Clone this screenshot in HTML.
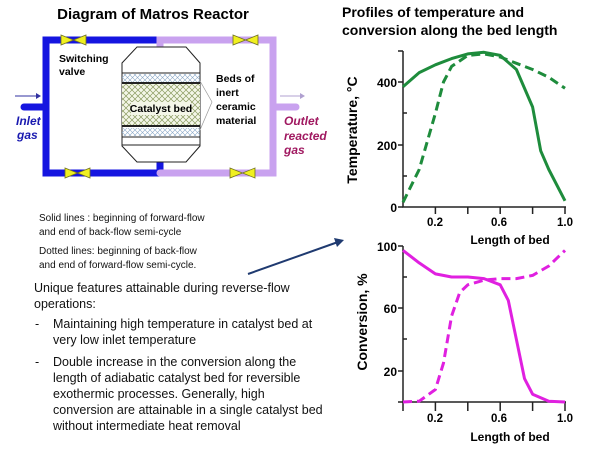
<!DOCTYPE html>
<html><head><style>body{margin:0;background:#fff}svg{display:block}</style></head><body>
<svg width="600" height="450" viewBox="0 0 600 450" xmlns="http://www.w3.org/2000/svg" font-family="Liberation Sans, Arial, sans-serif">
<defs>
<pattern id="hx" width="6" height="6" patternUnits="userSpaceOnUse"><path d="M0 0L6 6M6 0L0 6" stroke="#8a9a60" stroke-width="0.7"/></pattern>
<pattern id="hb" width="5" height="5" patternUnits="userSpaceOnUse"><path d="M0 0L5 5M5 0L0 5" stroke="#8aa8c8" stroke-width="0.6"/></pattern>
</defs>
<text x="153" y="19" font-size="15" font-weight="bold" text-anchor="middle">Diagram of Matros Reactor</text>
<!-- pipes -->
<g fill="none" stroke-linecap="round" stroke-width="7">
<path d="M160 40H46V173H160V162" stroke="#1515e0"/>
<path d="M24 107H46" stroke="#1515e0"/>
<path d="M160 51V40H273V173H160" stroke="#c9a2ef"/>
<path d="M273 107H296" stroke="#c9a2ef"/>
</g>
<path d="M15 96H40" stroke="#3030a0" stroke-width="1"/><path d="M36 93L41 96L36 99Z" fill="#3030a0"/>
<path d="M280 96H303" stroke="#b0a0d0" stroke-width="1"/><path d="M300 93L305 96L300 99Z" fill="#b0a0d0"/>
<!-- valves -->
<g fill="#f0f020" stroke="#707020" stroke-width="0.8">
<path d="M61 35L86 45V35L61 45Z"/>
<path d="M233 35L258 45V35L233 45Z"/>
<path d="M65 168L90 178V168L65 178Z"/>
<path d="M230 168L255 178V168L230 178Z"/>
</g>
<!-- reactor -->
<path d="M137 47H186L200 63V146L186 162H137L122 146V63Z" fill="#fff" stroke="#222" stroke-width="1"/>
<rect x="122" y="74" width="78" height="8" fill="url(#hb)"/>
<rect x="122" y="84" width="78" height="41" fill="#f4f6e8"/>
<rect x="122" y="84" width="78" height="41" fill="url(#hx)"/>
<rect x="122" y="128" width="78" height="8" fill="url(#hb)"/>
<g stroke="#222"><path d="M122 73H200M122 145H200" stroke-width="1"/><path d="M122 83H200M122 126H200" stroke-width="2"/><path d="M122 137H200" stroke-width="1"/></g>
<rect x="131" y="102" width="60" height="13" fill="#f4f6e8"/>
<text x="161" y="112" font-size="10.5" font-weight="bold" text-anchor="middle">Catalyst bed</text>
<path d="M200 81L212 102L200 130" fill="none" stroke="#999" stroke-width="0.7"/>
<g font-size="10.5" font-weight="bold"><text x="59" y="62">Switching</text><text x="59" y="75">valve</text>
<text x="216" y="82">Beds of</text><text x="216" y="96">inert</text><text x="216" y="110">ceramic</text><text x="216" y="124">material</text></g>
<g font-size="12" font-weight="bold" font-style="italic" fill="#1a1ab0"><text x="16" y="125">Inlet</text><text x="17" y="139">gas</text></g>
<g font-size="12" font-weight="bold" font-style="italic" fill="#a01860"><text x="284" y="125">Outlet</text><text x="284" y="140">reacted</text><text x="284" y="154">gas</text></g>
<!-- text block -->
<g font-size="10" fill="#111"><text x="39" y="221">Solid lines : beginning of forward-flow</text><text x="39" y="235">and end of back-flow semi-cycle</text>
<text x="39" y="254">Dotted lines: beginning of back-flow</text><text x="39" y="268">and end of forward-flow semi-cycle.</text></g>
<g font-size="12.5" fill="#111"><text x="34" y="292">Unique features attainable during reverse-flow</text><text x="34" y="308">operations:</text>
<text x="35" y="328">-</text><text x="53" y="328">Maintaining high temperature in catalyst bed at</text><text x="53" y="344">very  low inlet temperature</text>
<text x="35" y="366">-</text><text x="53" y="366">Double increase in the conversion along the</text><text x="53" y="382">length of adiabatic catalyst bed for reversible</text><text x="53" y="398">exothermic processes. Generally, high</text><text x="53" y="414">conversion are attainable in a single catalyst bed</text><text x="53" y="430">without intermediate heat removal</text></g>
<path d="M248 274L338 242" stroke="#1f3a70" stroke-width="2"/><path d="M334 238L344 240L337 247Z" fill="#1f3a70"/>
<!-- charts titles -->
<g font-size="14" font-weight="bold"><text x="342" y="17">Profiles of temperature and</text><text x="342" y="35">conversion along the bed length</text></g>
<!-- top chart -->
<g stroke="#222" stroke-width="1.5" fill="none">
<path d="M403 51V207H566"/>
<path d="M398 51H403M398 82H403M403 113H407M398 145H403M403 176H407M398 207H403"/>
<path d="M435.4 207V214M467.8 207V214M500.2 207V214M532.6 207V214M565 207V214"/>
</g>
<g font-size="12" font-weight="bold" text-anchor="end"><text x="397" y="87">400</text><text x="397" y="150">200</text><text x="397" y="212">0</text></g>
<g font-size="11.5" font-weight="bold" text-anchor="middle"><text x="435" y="226">0.2</text><text x="499" y="226">0.6</text><text x="565" y="226">1.0</text></g>
<text x="510" y="244" font-size="12" font-weight="bold" text-anchor="middle">Length of bed</text>
<text transform="translate(357,130) rotate(-90)" font-size="14" font-weight="bold" text-anchor="middle">Temperature, °C</text>
<polyline fill="none" stroke="#1e8c3c" stroke-width="3" stroke-linejoin="round" points="403,86.7 419.2,72.6 435.4,64.8 451.6,58.6 467.8,53.9 484,52.3 500.2,55.4 516.4,69.5 532.6,107 540.7,150.8 548.8,169.5 565,200.8"/>
<polyline fill="none" stroke="#1e8c3c" stroke-width="3" stroke-dasharray="9,5" stroke-linejoin="round" points="403,202.3 419.2,169.5 435.4,113.3 443.5,82 451.6,66.4 467.8,55.4 484,53.9 500.2,57 516.4,63.3 532.6,69.5 548.8,77.3 565,88.3"/>
<!-- bottom chart -->
<g stroke="#222" stroke-width="1.5" fill="none">
<path d="M403 246V402H566"/>
<path d="M398 246H403M403 277H407M398 308H403M403 339H407M398 371H403M398 402H403"/>
<path d="M403 402V411M435.4 402V411M467.8 402V411M500.2 402V411M532.6 402V411M565 402V411"/>
</g>
<g font-size="12" font-weight="bold" text-anchor="end"><text x="397" y="251">100</text><text x="397" y="313">60</text><text x="397" y="376">20</text></g>
<g font-size="11.5" font-weight="bold" text-anchor="middle"><text x="435" y="422">0.2</text><text x="499" y="422">0.6</text><text x="565" y="422">1.0</text></g>
<text x="510" y="441" font-size="12" font-weight="bold" text-anchor="middle">Length of bed</text>
<text transform="translate(367,322) rotate(-90)" font-size="14" font-weight="bold" text-anchor="middle">Conversion, %</text>
<polyline fill="none" stroke="#e020e0" stroke-width="3" stroke-linejoin="round" points="403,250.4 419.2,262.9 435.4,273.9 451.6,277 467.8,277 484,278.6 500.2,284.8 508.3,300.4 516.4,339.5 524.5,378.6 532.6,394.2 548.8,401.2 565,402"/>
<polyline fill="none" stroke="#e020e0" stroke-width="3" stroke-dasharray="9,5" stroke-linejoin="round" points="403,402 419.2,401.2 435.4,389.5 443.5,363 451.6,316 459.7,292.6 467.8,284.8 484,280.1 500.2,278.6 516.4,278.6 532.6,275.4 548.8,266 565,250.4"/>
</svg>
</body></html>
